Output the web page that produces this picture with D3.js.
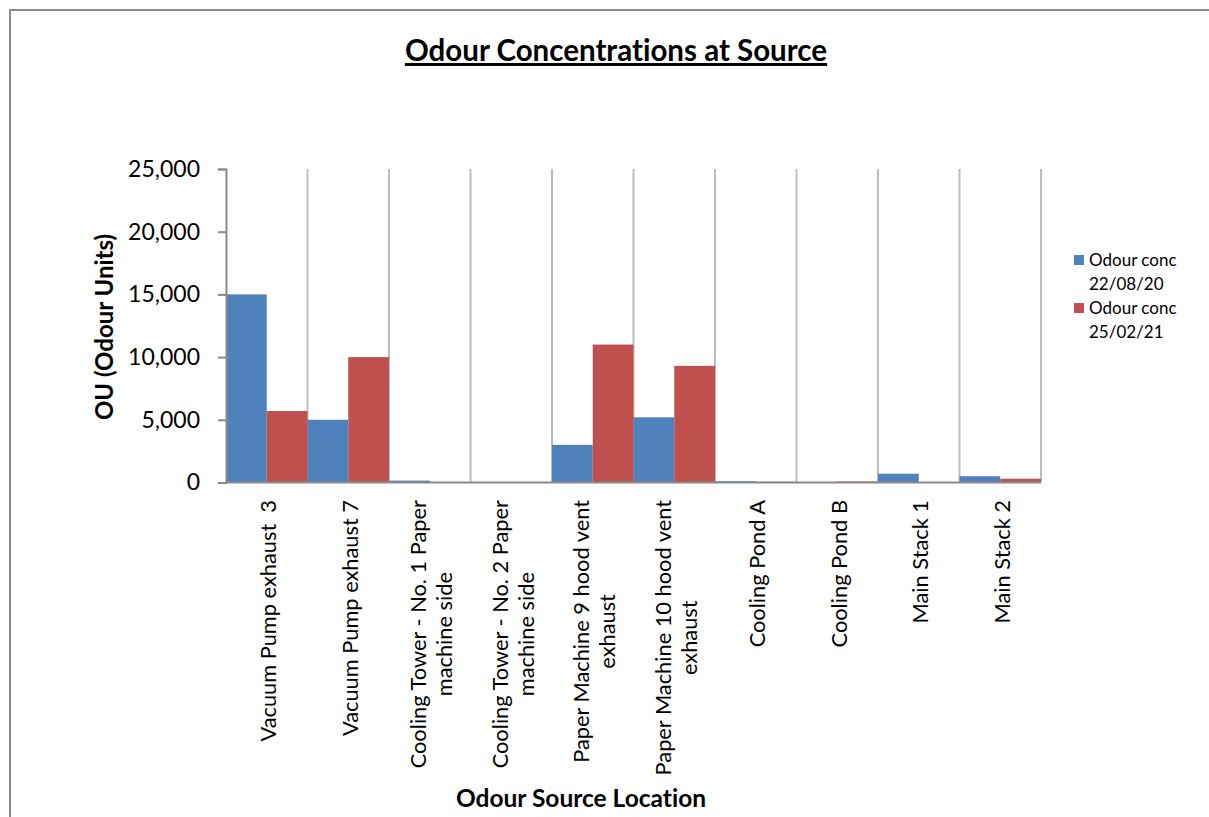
<!DOCTYPE html>
<html>
<head>
<meta charset="utf-8">
<script src="https://cdn.jsdelivr.net/npm/d3@7/dist/d3.min.js"></script>
<style>
  html, body { margin: 0; padding: 0; background: #fff; }
  svg { display: block; font-family: Lato, "Open Sans", sans-serif; font-variant-ligatures: none; }
  .cat-label { white-space: pre; }
</style>
</head>
<body>
<svg id="chart" width="1209" height="817"></svg>
<script>
// Odour sampling locations (label lines for wrapped axis text)
const categories = [
  ["Vacuum Pump exhaust  3"],
  ["Vacuum Pump exhaust 7"],
  ["Cooling Tower - No. 1 Paper", "machine side"],
  ["Cooling Tower - No. 2 Paper", "machine side"],
  ["Paper Machine 9 hood vent", "exhaust"],
  ["Paper Machine 10 hood vent", "exhaust"],
  ["Cooling Pond A"],
  ["Cooling Pond B"],
  ["Main Stack 1"],
  ["Main Stack 2"]
];
const seriesNames = ["Odour conc 22/08/20", "Odour conc 25/02/21"];
const legendLines = [["Odour conc", "22/08/20"], ["Odour conc", "25/02/21"]];
const conc2020 = [15000, 5000, 150, 30, 3000, 5200, 100, 10, 700, 500];
const conc2021 = [5700, 10000, 20, 10, 11000, 9300, 50, 80, 10, 300];
const yTicks = [0, 5000, 10000, 15000, 20000, 25000];
const colors = ["#4f81bd", "#c0504d"];

const svg = d3.select("#chart");

// outer chart frame
svg.append("rect")
  .attr("x", 10).attr("y", 10).attr("width", 1240).attr("height", 860)
  .attr("fill", "none").attr("stroke", "#8a8a8a").attr("stroke-width", 2);

const plot = { left: 226, right: 1041, top: 169, bottom: 482.5 };

const x = d3.scaleBand()
  .domain(d3.range(categories.length))
  .range([plot.left, plot.right])
  .paddingInner(0).paddingOuter(0);

const x1 = d3.scaleBand()
  .domain([0, 1])
  .range([0, x.bandwidth()])
  .padding(0);

const y = d3.scaleLinear().domain([0, 25000]).range([plot.bottom, plot.top]);

// vertical category separators
const g = svg.append("g");
g.selectAll("line.sep")
  .data(d3.range(1, categories.length + 1))
  .join("line")
  .attr("class", "sep")
  .attr("x1", d => x(d - 1) + x.bandwidth()).attr("x2", d => x(d - 1) + x.bandwidth())
  .attr("y1", plot.top).attr("y2", plot.bottom)
  .attr("stroke", "#bdbdbd").attr("stroke-width", 2);

// bars
const series = [conc2020, conc2021];
series.forEach((vals, s) => {
  g.selectAll("rect.s" + s)
    .data(vals)
    .join("rect")
    .attr("class", "s" + s)
    .attr("x", (d, i) => x(i) + x1(s))
    .attr("width", x1.bandwidth())
    .attr("y", d => y(d))
    .attr("height", d => y(0) - y(d))
    .attr("fill", colors[s]);
});

// y axis
const yAxis = svg.append("g")
  .attr("transform", `translate(${plot.left},0)`)
  .call(d3.axisLeft(y).tickValues(yTicks).tickFormat(d3.format(",")).tickSize(8).tickPadding(18));
yAxis.select(".domain").attr("stroke", "#8a8a8a").attr("stroke-width", 2);
yAxis.selectAll(".tick line").attr("stroke", "#8a8a8a").attr("stroke-width", 2);
yAxis.selectAll(".tick text")
  .attr("font-size", 23).attr("fill", "#000")
  .style("font-family", "Lato, sans-serif");

// x baseline
svg.append("line")
  .attr("x1", plot.left).attr("x2", plot.right)
  .attr("y1", y(0)).attr("y2", y(0))
  .attr("stroke", "#8a8a8a").attr("stroke-width", 2);

// rotated category labels
const labelSize = 21.8;
const lineGap = 26;
const labels = svg.append("g");
categories.forEach((lines, i) => {
  const cx = x(i) + x.bandwidth() / 2 + 2;
  const n = lines.length;
  const lab = labels.append("text")
    .attr("class", "cat-label")
    .attr("transform", `translate(${cx},500) rotate(-90)`)
    .attr("font-size", labelSize).attr("fill", "#000");
  // measure the longest line so every line is centred on it
  const tmp = labels.append("text").attr("class", "cat-label")
    .attr("font-size", labelSize).text(lines[0]);
  const w = tmp.node().getComputedTextLength();
  tmp.remove();
  lines.forEach((ln, k) => {
    lab.append("tspan")
      .attr("x", -w / 2)
      .attr("y", (k - (n - 1) / 2) * lineGap)
      .attr("dy", "0.35em")
      .attr("text-anchor", "middle")
      .text(ln);
  });
});

// title
svg.append("text")
  .attr("x", 616).attr("y", 61)
  .attr("text-anchor", "middle")
  .attr("font-size", 29.5).attr("font-weight", "bold")
  .attr("text-decoration", "underline")
  .text("Odour Concentrations at Source");

// axis titles
svg.append("text")
  .attr("x", 581).attr("y", 807)
  .attr("text-anchor", "middle")
  .attr("font-size", 24.5).attr("font-weight", "bold")
  .text("Odour Source Location");

svg.append("text")
  .attr("transform", "translate(113,327) rotate(-90)")
  .attr("text-anchor", "middle")
  .attr("font-size", 24).attr("font-weight", "bold")
  .text("OU (Odour Units)");

// legend
const legend = svg.append("g");
seriesNames.forEach((name, s) => {
  const ly = 255 + s * 48;
  legend.append("rect")
    .attr("x", 1074).attr("y", ly).attr("width", 10).attr("height", 10)
    .attr("fill", colors[s]);
  const t = legend.append("text").attr("font-size", 17).attr("fill", "#000");
  legendLines[s].forEach((ln, k) => {
    t.append("tspan").attr("x", 1089).attr("y", ly + 11 + k * 24).text(ln);
  });
});
</script>
</body>
</html>
